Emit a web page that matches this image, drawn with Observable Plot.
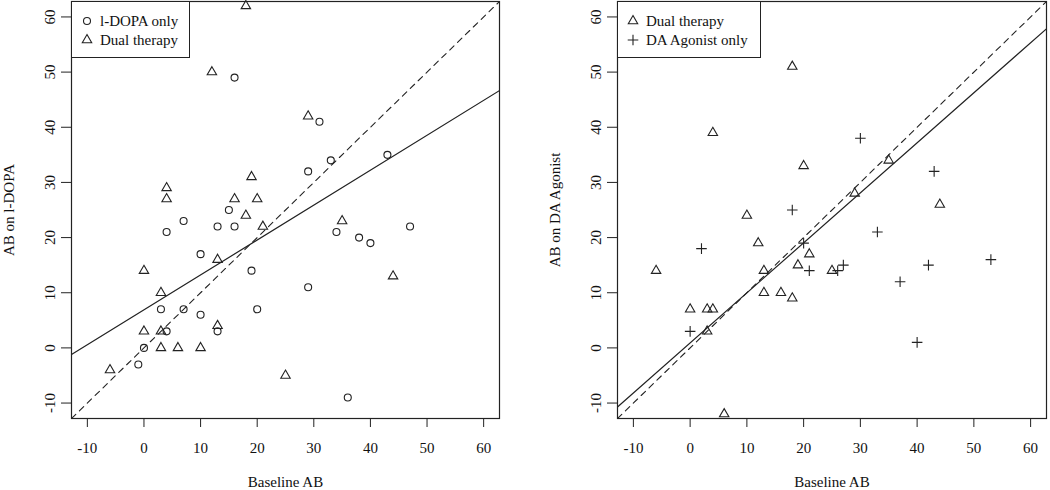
<!DOCTYPE html>
<html>
<head>
<meta charset="utf-8">
<script src="https://cdn.jsdelivr.net/npm/d3@7"></script>
<script src="https://cdn.jsdelivr.net/npm/@observablehq/plot@0.6"></script>
<style>
  html, body { margin: 0; padding: 0; background: #fff; }
  body { font-family: "Liberation Serif", "DejaVu Serif", serif; color: #111; }
  #wrap { display: flex; width: 1050px; height: 490px; overflow: hidden; }
  .panel { position: relative; width: 525px; height: 490px; }
  .legend { position: absolute; border: 1px solid #222; background: #fff; box-sizing: border-box; font-size: 15px; color: #111; }
  .legend svg { position: absolute; overflow: visible; }
  .legend span { position: absolute; white-space: nowrap; }
</style>
</head>
<body>
<div id="wrap">
  <div class="panel" id="left"></div>
  <div class="panel" id="right"></div>
</div>
<script>
// ---------- data ----------
const axisTicks = [-10, 0, 10, 20, 30, 40, 50, 60];
const axisDomain = [-12.8, 62.8];

// Left panel: l-DOPA only (circles)
const ldopaX = [16, 31, 33, 29, 43, 15, 7, 4, 13, 16, 10, 19, 3, 7, 10, 20, 4, 13, 0, -1, 34, 38, 40, 47, 29, 36];
const ldopaY = [49, 41, 34, 32, 35, 25, 23, 21, 22, 22, 17, 14, 7, 7, 6, 7, 3, 3, 0, -3, 21, 20, 19, 22, 11, -9];
// Left panel: Dual therapy (triangles)
const dualLX = [18, 12, 4, 4, 19, 16, 20, 18, 29, 35, 21, 13, 0, 3, 0, 3, 13, 3, 6, 10, -6, 44, 25];
const dualLY = [62, 50, 29, 27, 31, 27, 27, 24, 42, 23, 22, 16, 14, 10, 3, 3, 4, 0, 0, 0, -4, 13, -5];
// Right panel: Dual therapy (triangles)
const dualRX = [18, 4, 20, 10, 35, 29, 44, 12, 21, -6, 13, 19, 13, 16, 18, 0, 3, 4, 3, 6, 25];
const dualRY = [51, 39, 33, 24, 34, 28, 26, 19, 17, 14, 14, 15, 10, 10, 9, 7, 7, 7, 3, -12, 14];
// Right panel: DA Agonist only (plus)
const agonX = [18, 30, 43, 2, 20, 21, 0, 33, 26, 27, 42, 37, 53, 40];
const agonY = [25, 38, 32, 18, 19, 14, 3, 21, 14, 15, 15, 12, 16, 1];
// fitted lines [intercept, slope]
const fitLeft = [6.9, 0.633];
const fitRight = [0.9, 0.907];

const panels = [
  {id: "left", ylabel: "AB on l-DOPA", marginLeft: 71, marginRight: 26,
   series: [{x: ldopaX, y: ldopaY, symbol: "circle", name: "l-DOPA only"},
            {x: dualLX, y: dualLY, symbol: "triangle", name: "Dual therapy"}],
   fit: fitLeft, legend: {left: 71, width: 119}},
  {id: "right", ylabel: "AB on DA Agonist", marginLeft: 92, marginRight: 4,
   series: [{x: dualRX, y: dualRY, symbol: "triangle", name: "Dual therapy"},
            {x: agonX, y: agonY, symbol: "plus", name: "DA Agonist only"}],
   fit: fitRight, legend: {left: 92, width: 144}}
];

const ink = "#222";
const R = 3.5;
const fmt = d => String(d); // plain hyphen-minus like the reference

for (const p of panels) {
  const [lo, hi] = axisDomain;
  const fitLine = [lo, hi].map(x => ({x, y: p.fit[0] + p.fit[1] * x}));
  const idLine = [lo, hi].map(x => ({x, y: x}));
  const dotMarks = p.series.map(s =>
    Plot.dot(s.x.map((x, i) => ({x, y: s.y[i]})), {
      x: "x", y: "y", symbol: s.symbol, r: R, fill: "none", stroke: ink, strokeWidth: 1.1
    })
  );
  const chart = Plot.plot({
    width: 525,
    height: 490,
    marginTop: 1,
    marginBottom: 72,
    marginLeft: p.marginLeft,
    marginRight: p.marginRight,
    style: {fontFamily: '"Liberation Serif", serif', fontSize: "15px", background: "white", color: "#111"},
    x: {domain: axisDomain},
    y: {domain: axisDomain},
    marks: [
      Plot.line(idLine, {x: "x", y: "y", stroke: ink, strokeWidth: 1.1, strokeDasharray: "6,5", clip: true}),
      Plot.line(fitLine, {x: "x", y: "y", stroke: ink, strokeWidth: 1.2, clip: true}),
      ...dotMarks,
      Plot.frame({stroke: ink, strokeWidth: 1.2}),
      Plot.axisX({ticks: axisTicks, tickFormat: fmt, tickSize: 9, tickPadding: 15, stroke: ink, fontSize: 15,
                  label: "Baseline AB", labelAnchor: "center", labelArrow: "none", labelOffset: 68}),
      Plot.axisY({ticks: axisTicks, tickFormat: fmt, tickSize: 10, tickPadding: 7, tickRotate: -90, stroke: ink, fontSize: 15,
                  label: p.ylabel, labelAnchor: "center", labelArrow: "none", labelOffset: 68})
    ]
  });
  const host = document.getElementById(p.id);
  host.appendChild(chart);

  // legend inside top-left corner of the frame
  const lg = document.createElement("div");
  lg.className = "legend";
  lg.style.left = p.legend.left + "px";
  lg.style.top = "1px";
  lg.style.width = p.legend.width + "px";
  lg.style.height = "57px";
  p.series.forEach((s, i) => {
    const cy = 19 + i * 19;
    const sym = d3.symbol().type(s.symbol === "circle" ? d3.symbolCircle : s.symbol === "triangle" ? d3.symbolTriangle : d3.symbolPlus).size(Math.PI * R * R);
    const svg = d3.create("svg").attr("width", 1).attr("height", 1)
      .style("left", "15px").style("top", cy + "px");
    svg.append("path").attr("d", sym()).attr("fill", "none").attr("stroke", ink).attr("stroke-width", 1.1);
    lg.appendChild(svg.node());
    const t = document.createElement("span");
    t.textContent = s.name;
    t.style.left = "28px";
    t.style.top = (cy - 10) + "px";
    t.style.lineHeight = "20px";
    lg.appendChild(t);
  });
  host.appendChild(lg);
}
</script>
</body>
</html>
